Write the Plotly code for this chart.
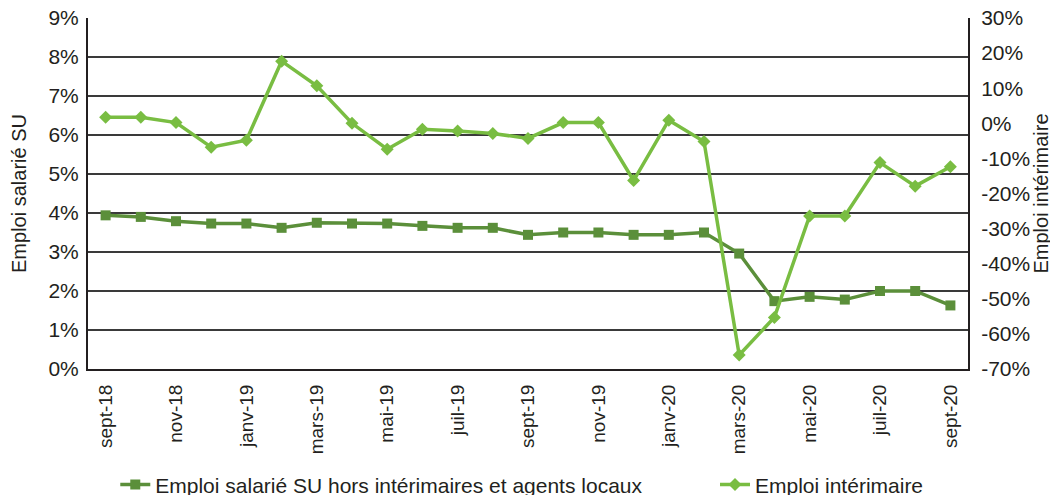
import plotly.graph_objects as go

months = ["sept-18","oct-18","nov-18","déc-18","janv-19","févr-19","mars-19","avr-19","mai-19","juin-19",
          "juil-19","août-19","sept-19","oct-19","nov-19","déc-19","janv-20","févr-20","mars-20","avr-20",
          "mai-20","juin-20","juil-20","août-20","sept-20"]
emploi_su = [3.94,3.90,3.79,3.73,3.73,3.62,3.75,3.73,3.73,3.67,3.62,3.62,3.44,3.50,3.50,3.44,3.44,3.50,
             2.96,1.74,1.85,1.78,2.00,2.00,1.63]
emploi_interim = [1.7,1.7,0.2,-6.8,-4.8,17.7,10.7,0.0,-7.4,-1.7,-2.2,-2.9,-4.3,0.2,0.2,-16.3,0.9,-5.2,
                  -66.0,-55.3,-26.4,-26.4,-11.2,-17.9,-12.4]
tick_labels = months[::2]
left_ticks = list(range(0, 10))
right_ticks = list(range(-70, 31, 10))

dark = "#5b8f3a"
light = "#79bd42"
txt = "#231f20"
font_family = "Liberation Sans, Arial, sans-serif"

fig = go.Figure()
fig.add_trace(go.Scatter(
    x=months, y=emploi_su, name="Emploi salarié SU hors intérimaires et agents locaux",
    mode="lines+markers", line=dict(color=dark, width=3.5),
    marker=dict(symbol="square", size=10, color=dark), yaxis="y", legend="legend"))
fig.add_trace(go.Scatter(
    x=months, y=emploi_interim, name="Emploi intérimaire",
    mode="lines+markers", line=dict(color=light, width=3.5),
    marker=dict(symbol="diamond", size=10, color=light), yaxis="y2", legend="legend2"))

# page body has an 8px margin, so the figure is shifted by 8px
fig.update_layout(
    width=1050, height=487,
    margin=dict(l=80, r=90, t=10, b=126, autoexpand=False),
    paper_bgcolor="white", plot_bgcolor="white",
    font=dict(family=font_family, color=txt, size=21),
    showlegend=True,
    legend=dict(orientation="h", x=0.031, xanchor="left", y=-0.33, yanchor="middle",
                font=dict(size=21, color=txt), bgcolor="rgba(0,0,0,0)"),
    legend2=dict(orientation="h", x=0.7125, xanchor="left", y=-0.33, yanchor="middle",
                 font=dict(size=21, color=txt), bgcolor="rgba(0,0,0,0)"),
    xaxis=dict(type="category", range=[-0.5, 24.5], tickmode="array", tickvals=tick_labels,
               ticktext=tick_labels, tickangle=-90, tickfont=dict(size=19),
               showline=True, linecolor="#231f20", linewidth=2, showgrid=False,
               ticks="outside", ticklen=6, tickcolor="white", automargin=False),
    yaxis=dict(range=[0, 9], tickmode="array", tickvals=left_ticks,
               ticktext=[f"{v}%" for v in left_ticks], showgrid=True, gridcolor="#3a3a3a",
               gridwidth=1.5, showline=True, linecolor="#231f20", linewidth=2, zeroline=False,
               ticks="outside", ticklen=3, tickcolor="white", automargin=False,
               ticklabeloverflow="allow", tickfont=dict(size=21),
               title=dict(text="Emploi salarié SU", font=dict(size=20), standoff=16)),
    yaxis2=dict(range=[-70, 30], overlaying="y", side="right", tickmode="array",
                tickvals=right_ticks, ticktext=[f"{v}%" for v in right_ticks],
                showgrid=False, showline=True, linecolor="#231f20", linewidth=2,
                zeroline=False, ticks="outside", ticklen=7, tickcolor="white", automargin=False,
                ticklabeloverflow="allow", tickfont=dict(size=21),
                title=dict(text="Emploi intérimaire", font=dict(size=20), standoff=4)),
)

fig.write_html("out.html")
